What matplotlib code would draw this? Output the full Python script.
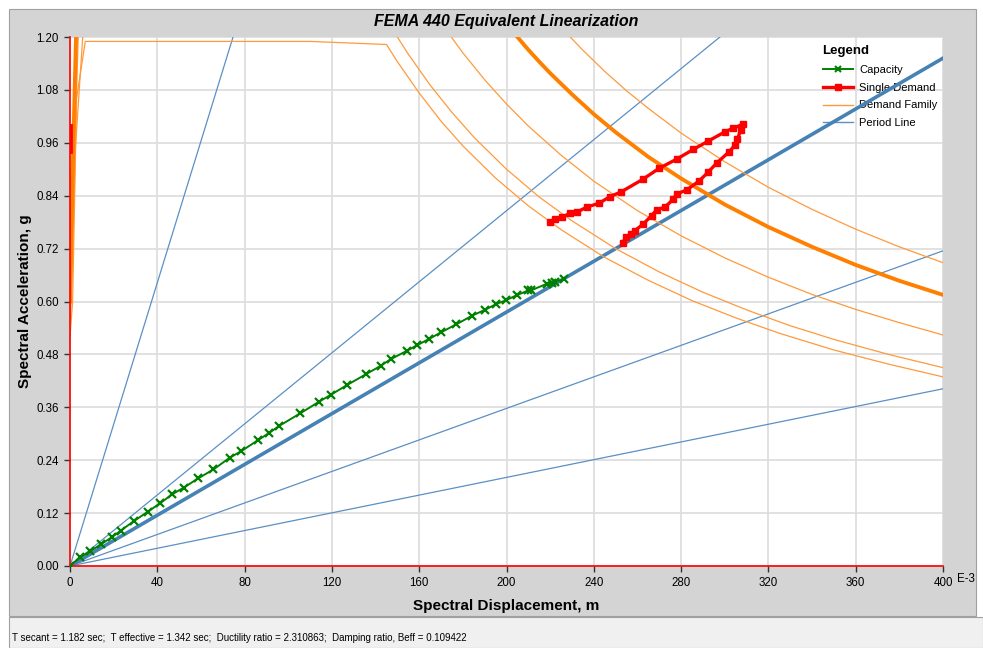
import numpy as np
import matplotlib
matplotlib.use('Agg')
import matplotlib.pyplot as plt
from matplotlib.patches import Rectangle
from matplotlib.lines import Line2D

plt.rcParams['font.family'] = ['Liberation Sans', 'DejaVu Sans']

# ---- data (Sd in E-3 m, Sa in g) ----
capacity_sd = [0, 4.6, 9.2, 14.1, 19.1, 23.2, 29.3, 35.6, 41.2, 46.9, 52.2, 58.8, 65.7, 73.3,
               78.3, 86.0, 91.3, 95.9, 105.4, 114.2, 119.4, 127.1, 135.6, 142.3, 146.9, 154.3,
               159.1, 164.5, 170.0, 176.9, 184.3, 190.1, 195.2, 199.8, 205.0, 210.0, 211.1,
               218.4, 220.7, 222.0, 226.3]
capacity_sa = [0, 0.020, 0.033, 0.049, 0.065, 0.080, 0.102, 0.123, 0.142, 0.163, 0.178, 0.199,
               0.219, 0.246, 0.260, 0.285, 0.302, 0.318, 0.346, 0.373, 0.388, 0.411, 0.435,
               0.454, 0.469, 0.488, 0.501, 0.515, 0.530, 0.548, 0.568, 0.581, 0.594, 0.603,
               0.615, 0.625, 0.625, 0.640, 0.643, 0.645, 0.650]

single_sd = [219.9, 222.2, 225.3, 229.1, 232.4, 236.7, 242.5, 247.4, 252.3, 262.4, 269.9, 278.0,
             285.6, 292.5, 300.1, 303.9, 308.2, 307.3, 305.8, 304.7, 302.1, 296.3, 292.5, 288.4,
             282.6, 278.0, 276.4, 272.6, 268.8, 266.5, 262.7, 258.9, 256.9, 254.8, 253.2]
single_sa = [0.780, 0.787, 0.791, 0.800, 0.803, 0.814, 0.823, 0.838, 0.848, 0.877, 0.902, 0.923,
             0.945, 0.964, 0.985, 0.993, 1.002, 0.989, 0.968, 0.955, 0.940, 0.914, 0.894, 0.874,
             0.853, 0.844, 0.832, 0.814, 0.808, 0.795, 0.776, 0.761, 0.753, 0.746, 0.733]
single_axis_sd = [0.4, 0.4]
single_axis_sa = [0.94, 1.0]

# demand family (thin curves)
demand_a_sd = [0, 2.0, 5.0, 183.3, 229, 235, 245, 255, 265, 280, 300, 320, 340, 360, 380, 400]
demand_a_sa = [0.85, 1.0, 1.5, 1.5, 1.201, 1.170, 1.122, 1.078, 1.038, 0.982, 0.917, 0.859,
               0.809, 0.764, 0.724, 0.688]
demand_b_sd = [0, 1.0, 4.5, 158.8, 175, 180, 190, 200, 210, 225, 240, 260, 280, 300, 320, 340,
               360, 380, 400]
demand_b_sa = [0.57, 0.75, 1.32, 1.32, 1.198, 1.164, 1.103, 1.048, 0.998, 0.932, 0.873, 0.806,
               0.749, 0.699, 0.655, 0.616, 0.582, 0.552, 0.524]
demand_c_sd = [0, 2.5, 6.5, 144, 150, 155, 165, 175, 185, 200, 215, 230, 250, 270, 290, 310,
               330, 350, 375, 400]
demand_c_sa = [0.52, 0.95, 1.25, 1.25, 1.200, 1.161, 1.091, 1.029, 0.973, 0.900, 0.837, 0.783,
               0.720, 0.667, 0.621, 0.581, 0.545, 0.514, 0.480, 0.450]
demand_d_sd = [0, 1.2, 3.0, 7.0, 110, 145, 150, 160, 170, 180, 195, 210, 225, 245, 265, 285,
               305, 325, 350, 375, 400]
demand_d_sa = [0.52, 0.60, 1.06, 1.19, 1.19, 1.183, 1.144, 1.073, 1.009, 0.953, 0.880, 0.817,
               0.763, 0.700, 0.648, 0.602, 0.563, 0.528, 0.490, 0.458, 0.429]
# demand at effective damping (thick curve)
demand_eff_sd = [0, 1.5, 4.0, 169.7, 205, 210, 215, 220, 230, 240, 250, 265, 280, 300, 320,
                 340, 360, 380, 400]
demand_eff_sa = [0.60, 0.95, 1.45, 1.45, 1.200, 1.171, 1.144, 1.118, 1.070, 1.025, 0.984,
                 0.928, 0.879, 0.820, 0.769, 0.724, 0.683, 0.647, 0.615]

# period lines: end points, all start at origin
period_end_sd = [74.7, 297.8, 400, 400]
period_end_sa = [1.2, 1.2, 0.715, 0.402]
secant_end_sd = 400
secant_end_sa = 1.152

status = ('T secant = 1.182 sec;  T effective = 1.342 sec;  Ductility ratio = 2.310863;  '
          'Damping ratio, Beff = 0.109422')

W, H = 983, 648
fig = plt.figure(figsize=(W / 100, H / 100), dpi=100, facecolor='white')

# gray panel and status bar
fig.patches.append(Rectangle((9 / W, (H - 616) / H), (976 - 9) / W, (616 - 9) / H,
                             transform=fig.transFigure, facecolor='#d4d4d4',
                             edgecolor='#a0a0a0', lw=0.8, zorder=-2))
fig.patches.append(Rectangle((9 / W, 0), (W - 9) / W, (H - 617) / H,
                             transform=fig.transFigure, facecolor='#f0f0f0',
                             edgecolor='#a0a0a0', lw=0.8, zorder=-2))

ax = fig.add_axes([70 / W, (H - 566) / H, (943 - 70) / W, (566 - 37) / H])
ax.set_facecolor('white')

blue = '#5a90c4'
orange = '#ff9a3c'

for sd, sa in zip(period_end_sd, period_end_sa):
    ax.plot([0, sd], [0, sa], color=blue, lw=0.9, zorder=2)
ax.plot([0, secant_end_sd], [0, secant_end_sa], color='#4682b4', lw=2.6, zorder=2)

for sd, sa in [(demand_a_sd, demand_a_sa), (demand_b_sd, demand_b_sa),
               (demand_c_sd, demand_c_sa), (demand_d_sd, demand_d_sa)]:
    ax.plot(sd, sa, color=orange, lw=0.9, zorder=3)
ax.plot(demand_eff_sd, demand_eff_sa, color='#ff8000', lw=2.8, zorder=3)

ax.plot(capacity_sd, capacity_sa, color='#008000', lw=1.4, marker='x', ms=6, mew=1.6, zorder=5)
ax.plot(single_sd, single_sa, color='red', lw=2.4, marker='s', ms=4, zorder=6)
ax.plot(single_axis_sd, single_axis_sa, color='red', lw=2.0, zorder=6)

ax.set_xlim(0, 400)
ax.set_ylim(0, 1.2)
ax.set_xticks(np.arange(0, 401, 40))
ax.set_yticks(np.arange(0, 1.21, 0.12))
ax.set_yticklabels([f'{v:.2f}' for v in np.arange(0, 1.21, 0.12)])
ax.grid(True, color='#dedede', lw=1.3, zorder=0)
ax.set_axisbelow(True)
ax.tick_params(labelsize=8.3, length=4, width=1, color='#333333', pad=4)

for s in ['top', 'right']:
    ax.spines[s].set_visible(False)
for s in ['left', 'bottom']:
    ax.spines[s].set_color('red')
    ax.spines[s].set_linewidth(1.2)
    ax.spines[s].set_zorder(4)

fig.text(957 / W, (H - 579) / H, 'E-3', fontsize=8.3, va='center', ha='left')

ax.set_title('FEMA 440 Equivalent Linearization', fontsize=11.5, fontweight='bold',
             fontstyle='italic', pad=8)
ax.set_xlabel('Spectral Displacement, m', fontsize=11, fontweight='bold', labelpad=7)
ax.set_ylabel('Spectral Acceleration, g', fontsize=11, fontweight='bold', labelpad=3)

handles = [Line2D([], [], color='#008000', lw=1.4, marker='x', ms=5, mew=1.5),
           Line2D([], [], color='red', lw=2.4, marker='s', ms=4),
           Line2D([], [], color=orange, lw=1.0),
           Line2D([], [], color=blue, lw=1.0)]
leg = ax.legend(handles, ['Capacity', 'Single Demand', 'Demand Family', 'Period Line'],
                title='Legend', loc='upper left', bbox_to_anchor=(0.857, 0.993),
                frameon=False, fontsize=8, handlelength=2.7, labelspacing=0.7,
                borderaxespad=0, handletextpad=0.6)
leg.get_title().set_fontweight('bold')
leg.get_title().set_fontsize(9.5)
leg._legend_box.align = 'left'
leg.set_zorder(1)

fig.text(12 / W, (H - 638) / H, status, fontsize=7, va='center', ha='left')

fig.savefig('out.png', dpi=100)
